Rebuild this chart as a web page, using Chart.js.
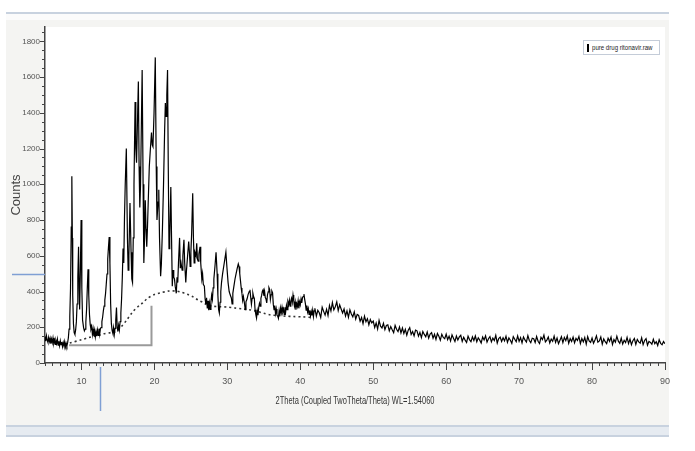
<!DOCTYPE html>
<html>
<head>
<meta charset="utf-8">
<script src="https://cdn.jsdelivr.net/npm/chart.js@4.4.1/dist/chart.umd.min.js"></script>
<style>
  html, body { margin: 0; padding: 0; background: #fff; }
  body { width: 695px; height: 451px; position: relative; overflow: hidden; font-family: 'Liberation Sans', Arial, sans-serif; }
  #panel { position: absolute; left: 6px; top: 12px; width: 663px; height: 413px; background: #f4f4f2; border-top: 2px solid #c8d2df; }
  #topShade { position: absolute; left: 6px; top: 14px; width: 663px; height: 6px; background: #fbfbfb; }
  #bottomBand { position: absolute; left: 6px; top: 425px; width: 663px; height: 12px; box-sizing: border-box; background: #e6ebf1; border-top: 2px solid #c8d2df; border-bottom: 2px solid #c8d2df; }
  #wrap { position: absolute; left: 0; top: 0; width: 695px; height: 451px; }
  #legend { position: absolute; left: 583px; top: 40px; width: 77px; height: 15px; box-sizing: border-box; border: 1px solid #c4ccd8; background: #fff; overflow: hidden; white-space: nowrap; }
  #legend i { position: absolute; left: 3px; top: 3px; width: 2px; height: 8px; background: #000; }
  #legend span { position: absolute; left: 8px; top: 1px; font: 8px 'Liberation Sans', Arial, sans-serif; line-height: 12px; color: #222; transform: scaleX(0.76); transform-origin: 0 50%; }
  #xTitle { position: absolute; left: 0; width: 710px; top: 394px; text-align: center; font: 11px 'Liberation Sans', Arial, sans-serif; color: #333; transform: scaleX(0.68); transform-origin: 355px 50%; white-space: nowrap; }
</style>
</head>
<body>
<div id="panel"></div>
<div id="topShade"></div>
<div id="bottomBand"></div>
<div id="wrap"><canvas id="xrd" width="695" height="451"></canvas></div>
<div id="legend"><i></i><span>pure drug ritonavir.raw</span></div>
<div id="xTitle"></div>
<script>
// ------------------------------------------------------------
// Scan data: [2theta, counts]
// Low-angle part (peaks), irregular spacing around sharp peaks.
// ------------------------------------------------------------
const lowScan = [
  [5.0,148],[5.1,122],[5.2,152],[5.3,128],[5.4,116],[5.5,143],[5.6,120],[5.7,138],[5.8,108],[5.9,134],
  [6.0,114],[6.1,140],[6.2,110],[6.3,128],[6.4,104],[6.5,126],[6.6,109],[6.7,133],[6.8,100],[6.9,121],
  [7.0,97],[7.1,124],[7.2,102],[7.3,118],[7.4,92],[7.5,115],[7.6,97],[7.7,120],[7.8,90],[7.9,110],
  [8.0,95],[8.1,114],[8.2,140],[8.3,190],[8.4,260],[8.5,420],[8.6,760],[8.68,1045],[8.75,700],[8.8,380],
  [8.9,220],[9.0,170],[9.1,160],[9.2,185],[9.3,230],[9.4,330],[9.5,480],[9.6,650],[9.68,420],[9.75,300],
  [9.85,520],[9.95,800],[10.05,420],[10.15,240],[10.3,195],[10.4,180],[10.5,190],[10.6,230],[10.7,300],[10.8,420],
  [10.9,525],[11.0,380],[11.1,270],[11.2,215],[11.3,190],[11.4,205],[11.5,160],[11.6,190],[11.7,150],[11.8,182],
  [11.9,146],[12.0,176],[12.1,150],[12.2,184],[12.3,155],[12.4,192],[12.5,160],[12.6,194],[12.7,198],[12.8,232],
  [12.9,256],[13.0,292],[13.1,318],[13.2,352],[13.3,388],[13.4,442],[13.5,498],[13.6,582],[13.7,648],[13.8,705],
  [13.9,560],[14.0,330],[14.1,220],[14.2,182],[14.3,166],[14.4,198],[14.5,160],[14.6,194],[14.7,240],[14.8,310],
  [14.9,200],[15.0,176],[15.1,212],[15.2,186],[15.3,232],[15.4,280],[15.5,360],[15.6,480],[15.7,640],[15.8,560],
  [15.9,820],[16.0,1000],[16.15,1200],[16.3,700],[16.4,520],[16.5,600],[16.65,895],[16.8,620],[16.9,470],[17.0,450],
  [17.1,700],[17.2,1000],[17.35,1460],[17.45,1200],[17.55,1120],[17.65,1300],[17.8,1575],[17.9,1100],[18.0,870],[18.1,1000],
  [18.2,1300],[18.32,1640],[18.45,1000],[18.55,560],[18.65,700],[18.75,910],[18.85,750],[18.95,650],[19.05,760],[19.15,900],
  [19.3,1100],[19.45,1200],[19.6,1290],[19.7,1220],[19.8,1210],[19.95,1400],[20.12,1710],[20.25,1100],[20.35,800],[20.5,900],
  [20.6,970],[20.7,700],[20.85,485],[20.95,550],[21.1,750],[21.25,1000],[21.4,1300],[21.5,1455],[21.6,1380],[21.7,1500],
  [21.8,1640],[21.9,1100],[22.0,640],[22.1,700],[22.25,985],[22.35,700],[22.45,430],[22.55,520],[22.65,480],[22.75,470],
  [22.85,430],[23.0,390],[23.1,480],[23.2,450],[23.3,560],[23.45,700],[23.55,530],[23.65,560],[23.8,520],[23.9,600],
  [24.05,690],[24.15,560],[24.3,450],[24.4,520],[24.55,600],[24.7,680],[24.8,620],[24.9,540],[25.0,620],[25.1,720],
  [25.25,950],[25.35,700],[25.45,560],[25.55,620],[25.7,600],[25.8,670],[25.9,580],[26.0,570],[26.1,610],[26.25,650],
  [26.35,560],[26.5,470],[26.6,500],[26.7,440],[26.85,430],[26.95,360],[27.05,330],[27.15,365],[27.25,305],[27.35,348],
  [27.45,296],[27.55,335],[27.65,300],[27.75,342],[27.85,380],[27.95,356],[28.05,420],[28.15,470],[28.3,540],[28.45,620],
  [28.6,500],[28.7,380],[28.8,300],[28.9,280],[29.0,340],[29.1,400],[29.2,450],[29.35,500],[29.5,540],[29.65,580],
  [29.8,620],[29.95,530],[30.1,450],[30.25,400],[30.4,380],[30.55,364],[30.65,330],[30.75,390],[30.9,430],[31.05,470],
  [31.2,500],[31.35,530],[31.5,555],[31.6,540],[31.7,500],[31.8,460],[31.9,420],[32.0,390],[32.1,350],[32.2,372],
  [32.35,332],[32.45,298],[32.55,342],[32.7,358],[32.85,384],[33.0,400],[33.1,410],[33.2,368],[33.3,328],[33.4,362],
  [33.5,390],[33.6,370],[33.7,362],[33.8,298],[33.9,272],[34.0,252],[34.1,292],[34.2,268],[34.3,312],[34.4,334],
  [34.5,318],[34.6,362],[34.7,378],[34.8,402],[34.9,410],[35.0,376],[35.1,402],[35.2,366],[35.3,358],[35.4,336],
  [35.5,382],[35.6,398],[35.7,422],[35.8,412],[35.9,356],[36.0,382],[36.1,402],[36.2,392],[36.3,328],[36.4,298],
  [36.5,322],[36.6,278],[36.7,302],[36.8,268],[36.9,262],[37.0,250],[37.1,292],[37.2,266],[37.3,308],[37.4,282],
  [37.5,312],[37.6,286],[37.7,302],[37.8,272],[37.9,312],[38.0,288],[38.1,322],[38.2,298],[38.3,342],[38.4,326],
  [38.5,352],[38.6,318],[38.7,346],[38.8,362],[38.9,338],[39.0,380],[39.1,348],[39.2,318],[39.3,342],[39.4,298],
  [39.5,332],[39.6,316],[39.7,348],[39.8,306],[39.9,342],[40.0,326],[40.1,358],[40.2,336],[40.3,366],[40.4,372],
  [40.5,385],[40.6,356],[40.7,332],[40.8,296],[40.9,322],[41.0,286],[41.1,304],[41.2,272],[41.3,294],[41.4,264],
  [41.5,288],[41.6,266],[41.7,296],[41.8,260],[41.9,292]
];

// High-angle tail: regular scan, 42.0 to 90.0 in 0.2 deg steps
const tailStart = 42.0;
const tailStep = 0.2;
const tailCounts = [
  306,262,295,281,255,312,289,268,301,266,
  322,291,338,297,315,342,293,325,302,280,
  302,263,291,255,298,274,258,287,246,272,
  266,233,254,220,262,231,248,214,243,224,
  234,199,224,190,238,206,196,222,187,210,
  214,180,204,186,170,210,189,176,202,168,
  196,165,188,156,184,198,160,176,152,184,
  180,150,171,142,176,160,147,173,139,162,
  170,139,161,132,165,150,128,161,143,136,
  162,131,150,123,157,138,120,151,129,146,
  155,121,144,128,115,150,131,119,146,126,
  151,119,141,128,112,146,129,152,117,136,
  148,118,139,126,155,112,137,145,120,141,
  124,150,116,140,127,110,147,133,119,152,
  121,142,113,146,129,117,153,126,114,139,
  136,115,148,122,109,144,131,156,118,128,
  145,112,134,121,150,116,139,108,127,147,
  114,143,125,151,110,136,120,145,113,138,
  126,149,109,137,118,143,106,148,124,115,
  140,111,129,152,116,123,146,105,135,119,
  108,138,121,145,104,131,117,150,122,110,
  139,106,127,114,143,109,134,102,125,137,
  104,132,118,111,141,103,126,136,100,121,
  115,105,133,108,119,98,130,110,102,120,
  108
];

// Fitted amorphous background (dotted line)
const bgAngles = [8.4, 10, 11, 12, 12.5, 13, 14, 14.6, 15.5, 16.2, 17, 18, 18.4, 19, 20, 20.8, 22, 23, 23.5, 24.5, 25.3, 26, 26.7, 27.2, 28, 29, 30, 31, 32, 33, 34, 35, 35.8, 37, 38, 39, 40.4, 41.5];
const bgCounts = [112, 130, 142, 152, 157, 163, 170, 175, 205, 240, 285, 325, 336, 360, 383, 392, 403, 402, 398, 385, 370, 352, 338, 326, 318, 315, 313, 308, 303, 298, 290, 278, 270, 265, 262, 260, 258, 255];

// Grey range bracket under the low-angle peaks
const bracketAngles = [8.3, 19.6, 19.6];
const bracketCounts = [100, 100, 320];

// Blue cursor marks
const cursorCount = 500;
const cursorAngle = 12.5;

const xTitle = '2Theta (Coupled TwoTheta/Theta) WL=1.54060';
const yTitle = 'Counts';
const xMin = 5, xMax = 90, yMin = 0, yMax = 1880;

document.getElementById('xTitle').textContent = xTitle;

const scanPoints = lowScan.map(p => ({ x: p[0], y: p[1] }))
  .concat(tailCounts.map((c, i) => ({ x: +(tailStart + i * tailStep).toFixed(1), y: c })));
const bgPoints = bgAngles.map((a, i) => ({ x: a, y: bgCounts[i] }));
const bracketPoints = bracketAngles.map((a, i) => ({ x: a, y: bracketCounts[i] }));

const FONT = "'Liberation Sans', Arial, sans-serif";

// white plot area + hand-drawn ticks (major/minor lengths differ)
const plotDecor = {
  id: 'plotDecor',
  beforeDraw(chart) {
    const { ctx, chartArea: a } = chart;
    ctx.save();
    ctx.fillStyle = '#fff';
    ctx.fillRect(a.left, a.top, a.right - a.left, a.bottom - a.top);
    ctx.restore();
  },
  afterDraw(chart) {
    const { ctx, chartArea: a, scales: { x, y } } = chart;
    ctx.save();
    ctx.strokeStyle = '#444';
    ctx.lineWidth = 1;
    ctx.beginPath();
    x.ticks.forEach(t => {
      const px = Math.round(x.getPixelForValue(t.value)) + 0.5;
      const len = t.value % 10 === 0 ? 7 : 3;
      ctx.moveTo(px, a.bottom);
      ctx.lineTo(px, a.bottom + len);
    });
    y.ticks.forEach(t => {
      const py = Math.round(y.getPixelForValue(t.value)) + 0.5;
      const len = t.value % 200 === 0 ? 5 : 3;
      ctx.moveTo(a.left - len, py);
      ctx.lineTo(a.left, py);
    });
    ctx.stroke();

    // cursor marks
    ctx.strokeStyle = '#7f9fd4';
    ctx.lineWidth = 1.5;
    ctx.beginPath();
    const cy = Math.round(y.getPixelForValue(cursorCount)) + 0.5;
    ctx.moveTo(12, cy);
    ctx.lineTo(a.left, cy);
    const cx = Math.round(x.getPixelForValue(cursorAngle)) + 0.5;
    ctx.moveTo(cx, a.bottom + 4);
    ctx.lineTo(cx, 411);
    ctx.stroke();
    ctx.restore();
  }
};

new Chart(document.getElementById('xrd').getContext('2d'), {
  type: 'line',
  data: {
    datasets: [
      { data: scanPoints, borderColor: '#000', borderWidth: 1.2, pointRadius: 0, tension: 0, order: 1 },
      { data: bgPoints, borderColor: '#333', borderWidth: 1.6, borderDash: [2, 3], pointRadius: 0, tension: 0.3, order: 2 },
      { data: bracketPoints, borderColor: '#9a9a9a', borderWidth: 2, pointRadius: 0, tension: 0, order: 3 }
    ]
  },
  options: {
    responsive: false,
    animation: false,
    layout: { padding: { top: 27, right: 30, left: 0, bottom: 0 } },
    plugins: { legend: { display: false }, tooltip: { enabled: false } },
    scales: {
      x: {
        type: 'linear', min: xMin, max: xMax,
        afterFit(s) { s.height = 88; },
        ticks: { stepSize: 1, autoSkip: false, maxRotation: 0, includeBounds: false,
                 callback: v => (v % 10 === 0 ? v : ''), font: { size: 9, family: FONT }, color: '#555', padding: 7 },
        grid: { drawOnChartArea: false, tickLength: 6, tickColor: 'rgba(0,0,0,0)' },
        border: { color: '#444', width: 1.5 },
        title: { display: false }
      },
      y: {
        min: yMin, max: yMax,
        afterFit(s) { s.width = 45; },
        ticks: { stepSize: 50, autoSkip: false, includeBounds: false,
                 callback: v => (v % 200 === 0 ? v : ''), font: { size: 8, family: FONT }, color: '#555', padding: 1 },
        grid: { drawOnChartArea: false, tickLength: 4, tickColor: 'rgba(0,0,0,0)' },
        border: { color: '#444', width: 1.5 },
        title: { display: true, text: yTitle, font: { size: 13, family: FONT }, color: '#444', padding: { top: 9, bottom: 0 } }
      }
    }
  },
  plugins: [plotDecor]
});
</script>
</body>
</html>
